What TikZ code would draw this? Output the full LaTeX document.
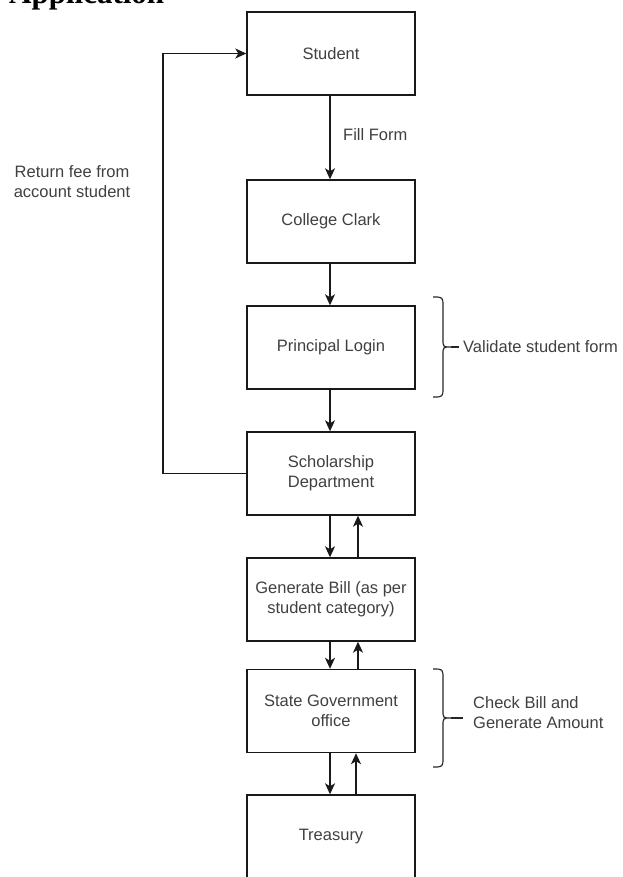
\documentclass[tikz,border=0pt]{standalone}
\usepackage{fontspec}
\setmainfont{Liberation Sans}
\newfontfamily\titlefont{Liberation Serif}
\usetikzlibrary{arrows.meta}
\begin{document}
\begin{tikzpicture}[x=1pt,y=-1pt,
  every node/.style={font=\fontsize{16.5}{20}\selectfont, text=black!75},
  stage/.style={draw=black!90, line width=1.4pt, minimum width=168pt, minimum height=83pt,
                align=center, inner sep=0pt},
  flow/.style={draw=black!90, line width=1.4pt, -{Stealth[length=11pt,width=10pt,inset=3pt]}},
  bracket/.style={draw=black!85, line width=1.2pt},
  note/.style={anchor=west, align=left, inner sep=0pt}]
\useasboundingbox (0,0) rectangle (622,877);

% title, partly above the page edge
\node[anchor=base west, inner sep=0pt, text=black, font=\titlefont\bfseries\fontsize{31}{31}\selectfont] (title) at (9,4) {Application};

% process stages
\node[stage] (student)  at (331,53.5)  {Student};
\node[stage] (clerk)    at (331,221.5) {College Clark};
\node[stage] (princ)    at (331,347.5) {Principal Login};
\node[stage] (scholar)  at (331,473.5) {Scholarship\\Department};
\node[stage] (bill)     at (331,599.5) {Generate Bill (as per\\student category)};
\node[stage] (state)    at (331,711)   {State Government\\office};
\node[stage] (treasury) at (331,836.5) {Treasury};

% downward flow
\draw[flow] (student.south -| 330,0) -- (clerk.north -| 330,0);
\draw[flow] (clerk.south -| 330,0) -- (princ.north -| 330,0);
\draw[flow] (princ.south -| 330,0) -- (scholar.north -| 330,0);
\draw[flow] (scholar.south -| 330,0) -- (bill.north -| 330,0);
\draw[flow] (bill.south -| 330,0) -- (state.north -| 330,0);
\draw[flow] (state.south -| 330,0) -- (treasury.north -| 330,0);

% upward flow
\draw[flow] (bill.north -| 358,0) -- (scholar.south -| 358,0);
\draw[flow] (state.north -| 358,0) -- (bill.south -| 358,0);
\draw[flow] (treasury.north -| 356,0) -- (state.south -| 356,0);

% refund loop back to the student
\coordinate (loopB) at (163,473.5);
\coordinate (loopT) at (163,53.5);
\draw[flow] (scholar.west) -- (loopB) -- (loopT) -- (student.west);

% labels
\node[note] (fill) at (343,135) {Fill Form};
\node[align=center, inner sep=0pt] (refund) at (72,182) {Return fee from\\account student};

% brace beside Principal Login
\draw[bracket] (433,297) .. controls (443,297) .. (443,307) -- (443,339)
  .. controls (443,347) .. (451,347) .. controls (443,347) .. (443,355) -- (443,387)
  .. controls (443,397) .. (433,397);
\draw[bracket] (451,347) -- (459,347);
\node[note] (validate) at (463,347) {Validate student form};

% brace beside State Government office
\draw[bracket] (433,669) .. controls (443,669) .. (443,679) -- (443,710)
  .. controls (443,718) .. (451,718) .. controls (443,718) .. (443,726) -- (443,757)
  .. controls (443,767) .. (433,767);
\draw[bracket] (451,718) -- (463,718);
\node[note] (check) at (473,713) {Check Bill and\\Generate Amount};
\end{tikzpicture}
\end{document}
